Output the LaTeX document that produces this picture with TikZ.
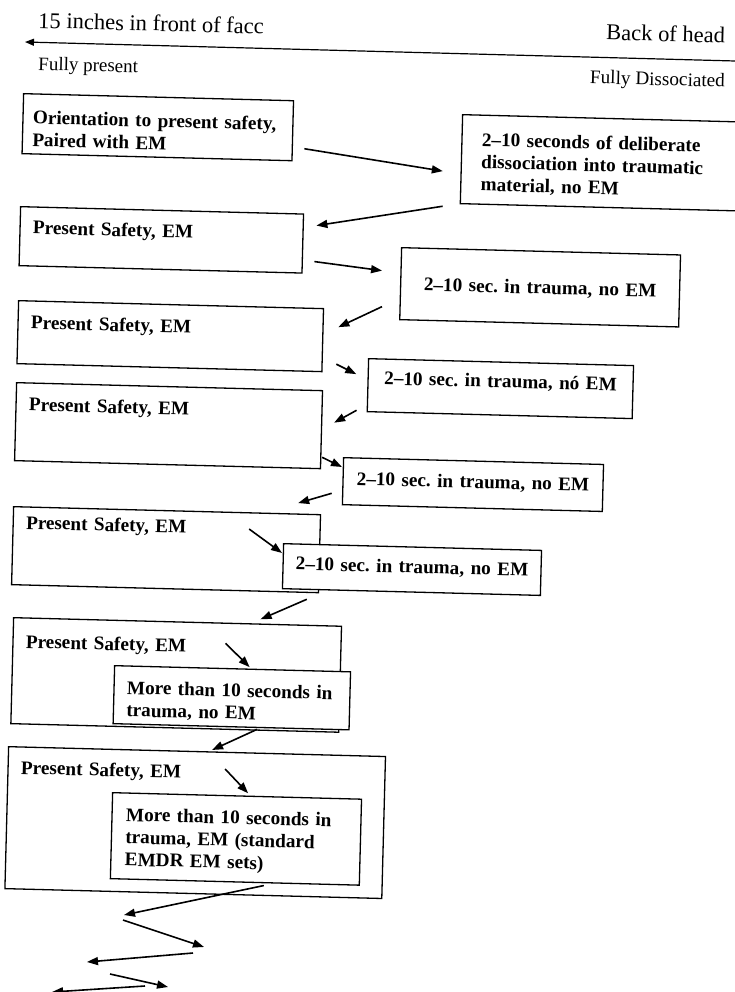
\documentclass[tikz,border=0pt]{standalone}
\usepackage{fontspec}
\setmainfont{Liberation Serif}
\usetikzlibrary{arrows.meta}
\frenchspacing

\begin{document}
\begin{tikzpicture}[x=1pt,y=-1pt,
  panel/.style={draw,line width=1.3pt,fill=white,anchor=north west,rotate=-1.5,
    inner xsep=13pt,inner ysep=12pt,text height=15pt,align=left,
    font=\bfseries\fontsize{19.2}{22.4}\selectfont},
  arr/.style={line width=1.6pt,-{Triangle[length=11pt,width=8pt]}},
  lbl/.style={rotate=-1.5,inner sep=0pt}]
\useasboundingbox (0,0) rectangle (735,992);

\node[lbl,anchor=base west,font=\fontsize{22.5}{27}\selectfont] (face) at (38,28) {15 inches in front of facc};
\node[lbl,anchor=base east,font=\fontsize{22.5}{27}\selectfont] (head) at (725,43) {Back of head};
\node[lbl,anchor=base west,font=\fontsize{19}{23}\selectfont] (present) at (38,70) {Fully present};
\node[lbl,anchor=base east,font=\fontsize{19.2}{23}\selectfont] (dissoc) at (725,87) {Fully Dissociated};
\coordinate (back) at (735,61);
\coordinate (front) at (25,42);
\draw[line width=1.2pt,-{Triangle[length=9pt,width=7pt]}] (back) -- (front);

\node[panel,inner xsep=10pt,text width=250pt,text height=18pt,text depth=18pt] (orient) at (23,93)
  {Orientation to present safety,\\ Paired with EM};
\node[panel,inner xsep=20pt,text width=236pt,text height=19pt,text depth=46pt] (deliberate) at (462,114)
  {2--10 seconds of deliberate\\ dissociation into traumatic\\ material, no EM};
\node[panel,text width=257pt,text depth=20pt] (ps1) at (20,206) {Present Safety, EM};
\node[panel,align=center,inner xsep=6pt,text width=267pt,text height=30.5pt,text depth=17.5pt] (sec1) at (401,247)
  {2--10 sec. in trauma, no EM};
\node[panel,text width=279pt,text height=16pt,text depth=23pt] (ps2) at (18,300) {Present Safety, EM};
\node[panel,align=center,inner xsep=6pt,text width=253pt,text height=13.5pt,text depth=15.5pt] (sec2) at (368,358)
  {2--10 sec. in trauma, nó EM};
\node[panel,text width=280pt,text height=16pt,text depth=38pt] (ps3) at (16,382) {Present Safety, EM};
\node[panel,align=center,inner xsep=6pt,text width=248pt,text depth=8pt] (sec3) at (343,457)
  {2--10 sec. in trauma, no EM};
\node[panel,text width=281pt,text height=10pt,text depth=44pt] (ps4) at (13,506) {Present Safety, EM};
\node[panel,align=center,inner xsep=6pt,text width=246pt,text height=14pt,text depth=7pt] (sec4) at (283,543)
  {2--10 sec. in trauma, no EM};
\node[panel,text width=302pt,text height=18pt,text depth=64pt] (ps5) at (13,617) {Present Safety, EM};
\node[panel,text width=210pt,text height=16pt,text depth=18pt] (more1) at (114,665)
  {More than 10 seconds in\\ trauma, no EM};
\node[panel,text width=351pt,text depth=103pt] (ps6) at (8,746) {Present Safety, EM};
\node[panel,inner xsep=14pt,text width=221pt,text height=16pt,text depth=46pt] (more2) at (112,792)
  {More than 10 seconds in\\ trauma, EM (standard\\ EMDR EM sets)};

\draw[arr] ([shift={(11,18)}]orient.east) -- ([shift={(-18,12)}]deliberate.west);
\draw[arr] ([shift={(-17,2)}]deliberate.south west) -- ([shift={(13,-18)}]ps1.east);
\draw[arr] ([shift={(11,18)}]ps1.east) -- ([shift={(-18,-13)}]sec1.west);
\draw[arr] ([shift={(-18,23)}]sec1.west) -- ([shift={(15,-13)}]ps2.east);
\draw[arr] ([shift={(13,24)}]ps2.east) -- ([shift={(-11,-11)}]sec2.west);
\draw[arr] ([shift={(-10,-2)}]sec2.south west) -- ([shift={(12,-7)}]ps3.east);
\draw[arr] ([shift={(1,-12)}]ps3.south east) -- ([shift={(-1,10)}]sec3.north west);
\draw[arr] ([shift={(-10,-12)}]sec3.south west) -- ([shift={(-23,-11)}]ps4.north east);
\draw[arr] ([shift={(-72,15)}]ps4.north east) -- ([shift={(-1,10)}]sec4.north west);
\draw[arr] ([shift={(25,10)}]sec4.south west) -- ([shift={(83,-2)}]ps5.north);
\draw[arr] ([shift={(48,22)}]ps5.north) -- ([shift={(17,-1)}]more1.north);
\draw[arr] ([shift={(26,2)}]more1.south) -- ([shift={(15,-1)}]ps6.north);
\draw[arr] ([shift={(28,18)}]ps6.north) -- ([shift={(11,-2)}]more2.north);

\coordinate (z1) at (124,915);
\coordinate (z2) at (123,920);
\coordinate (z3) at (204,947);
\coordinate (z4) at (193,953);
\coordinate (z5) at (87,962);
\coordinate (z6) at (110,974);
\coordinate (z7) at (168,987);
\coordinate (z8) at (145,986);
\coordinate (z9) at (52,992);
\draw[arr] ([shift={(29,3)}]more2.south) -- (z1);
\draw[arr] (z2) -- (z3);
\draw[arr] (z4) -- (z5);
\draw[arr] (z6) -- (z7);
\draw[arr] (z8) -- (z9);
\end{tikzpicture}
\end{document}
